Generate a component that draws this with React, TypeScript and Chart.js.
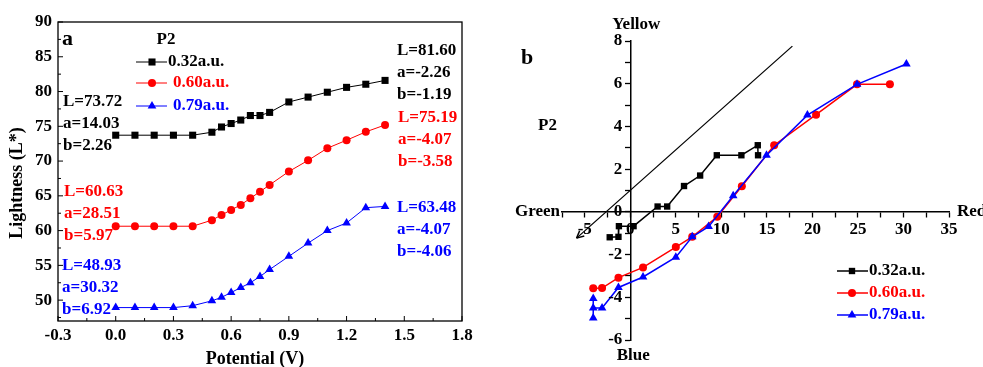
import React, { useEffect, useRef } from 'react';
import { Chart, registerables } from 'chart.js';

Chart.register(...registerables);

const FONT = "'Liberation Serif', 'Times New Roman', serif";

// ---------- Panel a data ----------
const potential = [0, 0.1, 0.2, 0.3, 0.4, 0.5, 0.55, 0.6, 0.65, 0.7, 0.75, 0.8, 0.9, 1.0, 1.1, 1.2, 1.3, 1.4];
const lightness032 = [73.72, 73.72, 73.72, 73.72, 73.72, 74.15, 74.9, 75.4, 75.9, 76.55, 76.55, 77.0, 78.5, 79.2, 79.9, 80.6, 81.05, 81.6];
const lightness060 = [60.63, 60.63, 60.63, 60.63, 60.63, 61.5, 62.25, 62.97, 63.7, 64.65, 65.6, 66.57, 68.5, 70.1, 71.85, 73.0, 74.2, 75.19];
const lightness079 = [48.93, 48.93, 48.93, 48.93, 49.2, 49.9, 50.4, 51.1, 51.8, 52.5, 53.4, 54.4, 56.3, 58.2, 60.0, 61.1, 63.3, 63.48];
const xTicksA = [-0.3, 0, 0.3, 0.6, 0.9, 1.2, 1.5, 1.8];
const yTicksA = [50, 55, 60, 65, 70, 75, 80, 85, 90];
const startLabelsA = [
  ['L=73.72', 'a=14.03', 'b=2.26'],
  ['L=60.63', 'a=28.51', 'b=5.97'],
  ['L=48.93', 'a=30.32', 'b=6.92'],
];
const endLabelsA = [
  ['L=81.60', 'a=-2.26', 'b=-1.19'],
  ['L=75.19', 'a=-4.07', 'b=-3.58'],
  ['L=63.48', 'a=-4.07', 'b=-4.06'],
];

// ---------- Panel b data ----------
const a032 = [14.03, 14.0, 12.2, 9.5, 7.67, 5.9, 4.05, 3.0, 0.36, -1.25, -1.3, -2.26];
const b032 = [2.65, 3.12, 2.65, 2.65, 1.7, 1.21, 0.25, 0.25, -0.67, -0.67, -1.17, -1.19];
const a060 = [28.51, 24.9, 20.4, 15.8, 12.25, 9.55, 6.8, 5.0, 1.4, -1.3, -3.1, -4.07];
const b060 = [5.97, 5.97, 4.55, 3.12, 1.2, -0.23, -1.17, -1.65, -2.6, -3.08, -3.57, -3.58];
const a079 = [30.32, 24.9, 19.45, 14.96, 11.3, 8.6, 6.8, 5.0, 1.4, -1.3, -3.1, -4.07, -4.07, -4.07];
const b079 = [6.92, 5.97, 4.53, 2.65, 0.75, -0.69, -1.17, -2.12, -3.05, -3.54, -4.5, -4.5, -4.97, -4.06];
const diagA = [-5.9, 17.8];
const diagB = [-1.23, 7.76];
const xTicksB = [-7.5, -5, -2.5, 0, 2.5, 5, 7.5, 10, 12.5, 15, 17.5, 20, 22.5, 25, 27.5, 30, 32.5, 35];
const yTicksB = [-6, -5, -4, -3, -2, -1, 0, 1, 2, 3, 4, 5, 6, 7, 8];

const seriesNames = ['0.32a.u.', '0.60a.u.', '0.79a.u.'];
const seriesColors = ['#000000', '#ff0000', '#0000ff'];
const seriesMarkers = ['rect', 'circle', 'triangle'];

function bold(size: number) {
  return `bold ${size}px ${FONT}`;
}

function drawMarker(ctx: CanvasRenderingContext2D, style: string, x: number, y: number, r: number, color: string) {
  ctx.fillStyle = color;
  ctx.beginPath();
  if (style === 'rect') {
    const s = r * Math.SQRT1_2;
    ctx.rect(x - s, y - s, 2 * s, 2 * s);
  } else if (style === 'circle') {
    ctx.arc(x, y, r, 0, Math.PI * 2);
  } else {
    const t = (2 * Math.PI) / 3;
    ctx.moveTo(x, y - r);
    ctx.lineTo(x + r * Math.sin(t), y - r * Math.cos(t));
    ctx.lineTo(x + r * Math.sin(2 * t), y - r * Math.cos(2 * t));
    ctx.closePath();
  }
  ctx.fill();
}

function seg(ctx: CanvasRenderingContext2D, x1: number, y1: number, x2: number, y2: number) {
  ctx.beginPath();
  ctx.moveTo(x1, y1);
  ctx.lineTo(x2, y2);
  ctx.stroke();
}

const panelAPlugin = {
  id: 'panelA',
  beforeDatasetsDraw(chart: any) {
    const { ctx, chartArea: ca } = chart;
    const x = chart.scales.x;
    const y = chart.scales.y;
    ctx.save();
    ctx.strokeStyle = '#000';
    ctx.lineWidth = 1.3;
    ctx.strokeRect(ca.left, ca.top, ca.right - ca.left, ca.bottom - ca.top);
    ctx.lineWidth = 1;
    for (let i = 0; i < xTicksA.length; i++) {
      const px = x.getPixelForValue(xTicksA[i]);
      seg(ctx, px, ca.bottom, px, ca.bottom - 5);
      if (i < xTicksA.length - 1) {
        const m = x.getPixelForValue((xTicksA[i] + xTicksA[i + 1]) / 2);
        seg(ctx, m, ca.bottom, m, ca.bottom - 3);
      }
    }
    for (let i = 0; i < yTicksA.length; i++) {
      const py = y.getPixelForValue(yTicksA[i]);
      seg(ctx, ca.left, py, ca.left + 5, py);
      const m = y.getPixelForValue(yTicksA[i] - 2.5);
      if (m < ca.bottom) seg(ctx, ca.left, m, ca.left + 3, m);
    }
    // axis titles
    ctx.fillStyle = '#000';
    ctx.font = bold(18);
    ctx.textAlign = 'center';
    ctx.textBaseline = 'middle';
    ctx.fillText('Potential (V)', (ca.left + ca.right) / 2 - 5, 359);
    ctx.save();
    ctx.translate(17, 183);
    ctx.rotate(-Math.PI / 2);
    ctx.fillText('Lightness (L*)', 0, 0);
    ctx.restore();
    // panel label
    ctx.font = bold(22);
    ctx.textAlign = 'left';
    ctx.fillText('a', 62, 39);
    // annotations
    ctx.font = bold(17);
    const startPos = [[63, 102], [64, 192], [62, 266]];
    const endPos = [[397, 51], [398, 118], [397, 208]];
    for (let s = 0; s < 3; s++) {
      ctx.fillStyle = seriesColors[s];
      for (let k = 0; k < 3; k++) {
        ctx.fillText(startLabelsA[s][k], startPos[s][0], startPos[s][1] + k * 22);
        ctx.fillText(endLabelsA[s][k], endPos[s][0], endPos[s][1] + k * 22);
      }
    }
    // legend
    ctx.fillStyle = '#000';
    ctx.textAlign = 'center';
    ctx.fillText('P2', 166, 40);
    ctx.textAlign = 'left';
    const legY = [62, 83, 106];
    const legTextX = [168, 173, 173];
    const legR = [5, 4, 5];
    for (let s = 0; s < 3; s++) {
      ctx.strokeStyle = seriesColors[s];
      ctx.lineWidth = 1;
      seg(ctx, 136, legY[s], 167, legY[s]);
      drawMarker(ctx, seriesMarkers[s], 152, legY[s], legR[s], seriesColors[s]);
      ctx.fillStyle = seriesColors[s];
      ctx.fillText(seriesNames[s], legTextX[s], legY[s]);
    }
    ctx.restore();
  },
};

const panelBPlugin = {
  id: 'panelB',
  afterDraw(chart: any) {
    const { ctx, chartArea: ca } = chart;
    const x = chart.scales.x;
    const y = chart.scales.y;
    const x0 = x.getPixelForValue(0);
    const y0 = y.getPixelForValue(0);
    ctx.save();
    // y tick labels
    ctx.fillStyle = '#000';
    ctx.font = bold(17);
    ctx.textAlign = 'right';
    ctx.textBaseline = 'middle';
    for (const v of yTicksB) {
      if (v % 2 === 0) ctx.fillText(String(v), x0 - 8, y.getPixelForValue(v));
    }
    // arrowhead on the diagonal line
    const p0x = x.getPixelForValue(diagA[0]);
    const p0y = y.getPixelForValue(diagB[0]);
    const p1x = x.getPixelForValue(diagA[1]);
    const p1y = y.getPixelForValue(diagB[1]);
    const ang = Math.atan2(p0y - p1y, p0x - p1x);
    ctx.strokeStyle = '#000';
    ctx.lineWidth = 1.5;
    for (const d of [0.45, -0.45]) {
      seg(ctx, p0x, p0y, p0x - 8 * Math.cos(ang + d), p0y - 8 * Math.sin(ang + d));
    }
    // direction labels
    ctx.font = bold(17);
    ctx.textAlign = 'right';
    ctx.fillText('Green', ca.left - 2, y0);
    ctx.textAlign = 'left';
    ctx.fillText('Red', ca.right + 8, y0);
    ctx.textAlign = 'center';
    ctx.fillText('Yellow', x0 + 6, ca.top - 16);
    ctx.fillText('Blue', x0 + 3, ca.bottom + 16);
    ctx.textAlign = 'left';
    ctx.fillText('P2', 53, 126);
    ctx.font = bold(22);
    ctx.fillText('b', 36, 58);
    // legend
    ctx.font = bold(17);
    const legY = [271, 293, 315];
    const legR = [4.5, 4, 5];
    for (let s = 0; s < 3; s++) {
      ctx.strokeStyle = seriesColors[s];
      ctx.lineWidth = 1.5;
      seg(ctx, 352, legY[s], 383, legY[s]);
      drawMarker(ctx, seriesMarkers[s], 367, legY[s], legR[s], seriesColors[s]);
      ctx.fillStyle = seriesColors[s];
      ctx.fillText(seriesNames[s], 384, legY[s]);
    }
    ctx.restore();
  },
};

function zip(xs: number[], ys: number[]) {
  return xs.map((v, i) => ({ x: v, y: ys[i] }));
}

export default function App() {
  const refA = useRef<HTMLCanvasElement>(null);
  const refB = useRef<HTMLCanvasElement>(null);

  useEffect(() => {
    Chart.defaults.font.family = FONT;
    const tickFont = { family: FONT, size: 17, weight: 'bold' as const };
    const lA = [lightness032, lightness060, lightness079];
    const radA = [5, 4, 5];
    const chartA = new Chart(refA.current as HTMLCanvasElement, {
      type: 'line',
      data: {
        datasets: lA.map((arr, s) => ({
          label: seriesNames[s],
          data: zip(potential, arr),
          borderColor: seriesColors[s],
          backgroundColor: seriesColors[s],
          borderWidth: 1,
          pointStyle: seriesMarkers[s] as any,
          pointRadius: radA[s],
          pointBorderWidth: 0,
          pointBackgroundColor: seriesColors[s],
        })),
      },
      options: {
        animation: false,
        responsive: false,
        events: [],
        layout: { padding: { left: 0, right: 23, top: 22, bottom: 0 } },
        plugins: { legend: { display: false }, tooltip: { enabled: false } },
        scales: {
          x: {
            type: 'linear',
            min: -0.3,
            max: 1.8,
            afterBuildTicks: (s: any) => {
              s.ticks = xTicksA.map((v) => ({ value: v }));
            },
            afterFit: (s: any) => {
              s.height = 46;
              s.paddingLeft = 0;
              s.paddingRight = 0;
            },
            grid: { display: false, drawTicks: false },
            border: { display: false },
            ticks: {
              autoSkip: false,
              maxRotation: 0,
              padding: 4,
              color: '#000',
              font: tickFont,
              callback: (v: any) => Number(v).toFixed(1),
            },
          },
          y: {
            type: 'linear',
            min: 47,
            max: 90,
            afterBuildTicks: (s: any) => {
              s.ticks = yTicksA.map((v) => ({ value: v }));
            },
            afterFit: (s: any) => {
              s.width = 58;
              s.paddingTop = 0;
              s.paddingBottom = 0;
            },
            grid: { display: false, drawTicks: false },
            border: { display: false },
            ticks: {
              autoSkip: false,
              padding: 6,
              color: '#000',
              font: tickFont,
              callback: (v: any) => String(v),
            },
          },
        },
      },
      plugins: [panelAPlugin],
    } as any);

    const aB = [a032, a060, a079];
    const bB = [b032, b060, b079];
    const radB = [4.5, 4, 5];
    const orderB = [3, 2, 1];
    const datasetsB: any[] = aB.map((arr, s) => ({
      label: seriesNames[s],
      data: zip(arr, bB[s]),
      borderColor: seriesColors[s],
      backgroundColor: seriesColors[s],
      borderWidth: 1.5,
      pointStyle: seriesMarkers[s],
      pointRadius: radB[s],
      pointBorderWidth: 0,
      pointBackgroundColor: seriesColors[s],
      order: orderB[s],
    }));
    datasetsB.push({
      label: 'diagonal',
      data: zip(diagA, diagB),
      borderColor: '#000',
      borderWidth: 1.3,
      pointRadius: 0,
      order: 4,
    });

    const chartB = new Chart(refB.current as HTMLCanvasElement, {
      type: 'line',
      data: { datasets: datasetsB },
      options: {
        animation: false,
        responsive: false,
        events: [],
        layout: { padding: { left: 77, right: 34, top: 41, bottom: 27 } },
        plugins: { legend: { display: false }, tooltip: { enabled: false } },
        scales: {
          x: {
            type: 'linear',
            min: -7.5,
            max: 35,
            position: { y: 0 },
            afterBuildTicks: (s: any) => {
              s.ticks = xTicksB.map((v) => ({ value: v }));
            },
            afterFit: (s: any) => {
              s.height = 0;
              s.paddingLeft = 0;
              s.paddingRight = 0;
            },
            grid: {
              display: true,
              drawOnChartArea: false,
              drawTicks: true,
              tickLength: 5,
              tickWidth: 1.3,
              tickColor: '#000',
            },
            border: { display: true, color: '#000', width: 1.5 },
            ticks: {
              autoSkip: false,
              maxRotation: 0,
              padding: 3,
              color: '#000',
              font: tickFont,
              callback: (v: any) => (Number(v) % 5 === 0 ? String(v) : ''),
            },
          },
          y: {
            type: 'linear',
            min: -6,
            max: 8,
            position: { x: 0 },
            afterBuildTicks: (s: any) => {
              s.ticks = yTicksB.map((v) => ({ value: v }));
            },
            afterFit: (s: any) => {
              s.width = 0;
              s.paddingTop = 0;
              s.paddingBottom = 0;
            },
            grid: {
              display: true,
              drawOnChartArea: false,
              drawTicks: true,
              tickLength: 5,
              tickWidth: 1.3,
              tickColor: '#000',
            },
            border: { display: true, color: '#000', width: 1.5 },
            ticks: { display: false },
          },
        },
      },
      plugins: [panelBPlugin],
    } as any);

    return () => {
      chartA.destroy();
      chartB.destroy();
    };
  }, []);

  return (
    <div style={{ position: 'absolute', left: 0, top: 0, width: 983, height: 367, background: '#fff' }}>
      <canvas ref={refA} width={485} height={367} style={{ position: 'absolute', left: 0, top: 0 }} />
      <canvas ref={refB} width={498} height={367} style={{ position: 'absolute', left: 485, top: 0 }} />
    </div>
  );
}
